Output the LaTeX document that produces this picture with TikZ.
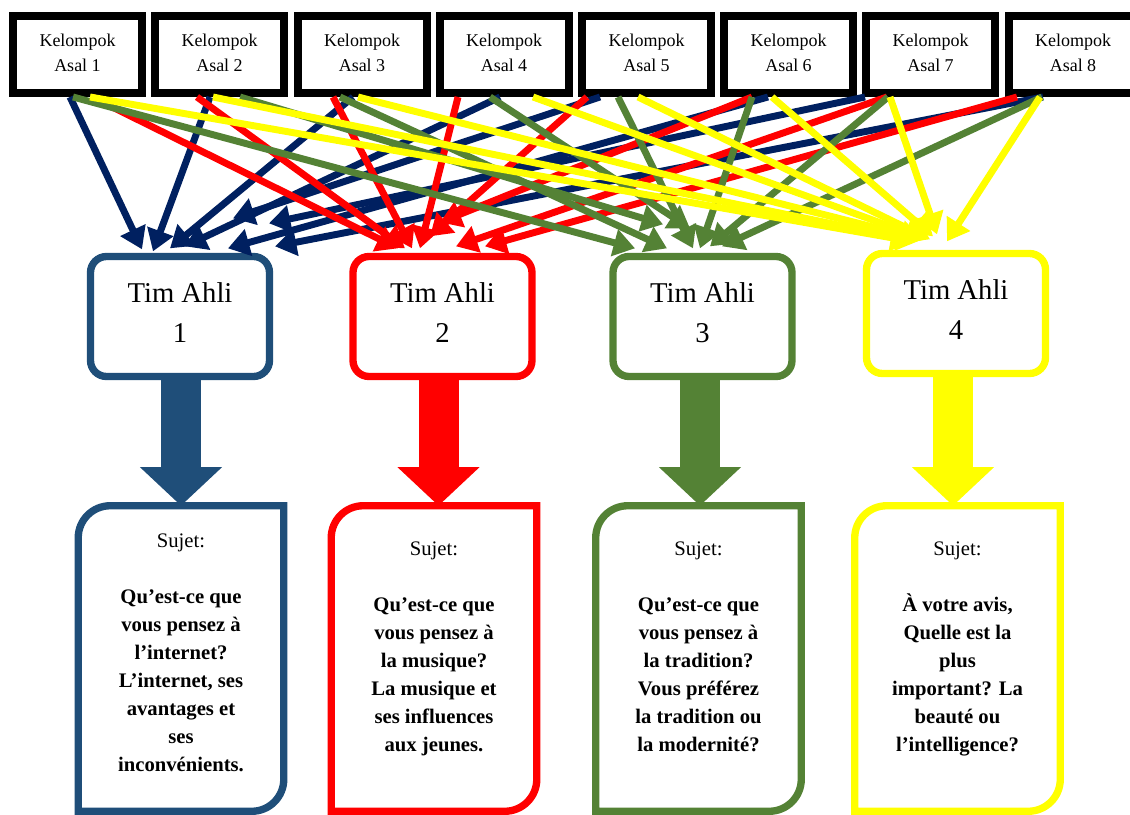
\documentclass[tikz,border=0pt]{standalone}
\usepackage{fontspec}
\setmainfont{Liberation Serif}
\usepackage{xcolor}
\usetikzlibrary{arrows.meta,positioning,calc}

\definecolor{navyA}{RGB}{0,32,96}
\definecolor{blueT}{RGB}{31,78,121}
\definecolor{redT}{RGB}{255,0,0}
\definecolor{greenT}{RGB}{84,130,53}
\definecolor{yellowT}{RGB}{255,255,0}

\begin{document}
\begin{tikzpicture}[x=0.75pt, y=-0.75pt,
    asal/.style={rectangle, draw=black, line width=6pt, fill=white, minimum width=96.75pt, minimum height=57.75pt, inner sep=0pt, align=center, text depth=3pt, font=\fontsize{13.5pt}{18.75pt}\selectfont},
    ahli/.style={rectangle, draw, rounded corners=12pt, line width=5.5pt, fill=white, minimum width=134.25pt, minimum height=90pt, inner sep=0pt, align=center, text depth=6pt, font=\fontsize{21.5pt}{30pt}\selectfont},
    sujet/.style={rectangle, minimum width=153.75pt, minimum height=228.75pt, inner sep=0pt},
    ask/.style={align=center, inner sep=0pt, font=\fontsize{15.5pt}{21pt}\selectfont\bfseries},
    link/.style={-{Triangle[length=16pt,width=20pt]}, line width=5.2pt},
    fat/.style={-{Triangle[length=29pt,width=60pt]}, line width=30pt},
    frame/.style={line width=5.5pt}
]
    \clip (0,0) rectangle (1130,814);

    % kelompok asal
    \node[asal] (a1) at (77.5,54.5) {Kelompok\\Asal 1};
    \node[asal] (a2) at (219.5,54.5) {Kelompok\\Asal 2};
    \node[asal] (a3) at (362,54.5) {Kelompok\\Asal 3};
    \node[asal] (a4) at (504,54.5) {Kelompok\\Asal 4};
    \node[asal] (a5) at (646.5,54.5) {Kelompok\\Asal 5};
    \node[asal] (a6) at (788.5,54.5) {Kelompok\\Asal 6};
    \node[asal] (a7) at (930.5,54.5) {Kelompok\\Asal 7};
    \node[asal] (a8) at (1073,54.5) {Kelompok\\Asal 8};

    % tim ahli
    \node[ahli, draw=blueT] (t1) at (180,316.5) {Tim Ahli\\1};
    \node[ahli, draw=redT] (t2) at (442.5,316.5) {Tim Ahli\\2};
    \node[ahli, draw=greenT] (t3) at (702.5,316.5) {Tim Ahli\\3};
    \node[ahli, draw=yellowT] (t4) at (956,313.5) {Tim Ahli\\4};

    % sujet boxes
    \node[sujet] (s1) at (181,658.5) {};
    \node[sujet] (s2) at (434,658.5) {};
    \node[sujet] (s3) at (698.5,658.5) {};
    \node[sujet] (s4) at (957.5,658.5) {};

    \draw[frame, blueT] (s1.south west) -- ([yshift=-24pt]s1.north west) arc[start angle=180, end angle=90, radius=24pt] -- (s1.north east) -- ([yshift=24pt]s1.south east) arc[start angle=0, end angle=-90, radius=24pt] -- cycle;
    \draw[frame, redT] (s2.south west) -- ([yshift=-24pt]s2.north west) arc[start angle=180, end angle=90, radius=24pt] -- (s2.north east) -- ([yshift=24pt]s2.south east) arc[start angle=0, end angle=-90, radius=24pt] -- cycle;
    \draw[frame, greenT] (s3.south west) -- ([yshift=-24pt]s3.north west) arc[start angle=180, end angle=90, radius=24pt] -- (s3.north east) -- ([yshift=24pt]s3.south east) arc[start angle=0, end angle=-90, radius=24pt] -- cycle;
    \draw[frame, yellowT] (s4.south west) -- ([yshift=-24pt]s4.north west) arc[start angle=180, end angle=90, radius=24pt] -- (s4.north east) -- ([yshift=24pt]s4.south east) arc[start angle=0, end angle=-90, radius=24pt] -- cycle;

    \node[ask, below=20.5pt of s1.north] (q1) {\mdseries Sujet:\\[21pt]Qu’est-ce que\\vous pensez à\\l’internet?\\L’internet, ses\\avantages et\\ses\\inconvénients.};
    \node[ask, below=26.5pt of s2.north] (q2) {\mdseries Sujet:\\[21pt]Qu’est-ce que\\vous pensez à\\la musique?\\La musique et\\ses influences\\aux jeunes.};
    \node[ask, below=26.5pt of s3.north] (q3) {\mdseries Sujet:\\[21pt]Qu’est-ce que\\vous pensez à\\la tradition?\\Vous préférez\\la tradition ou\\la modernité?};
    \node[ask, below=26.5pt of s4.north] (q4) {\mdseries Sujet:\\[21pt]À votre avis,\\Quelle est la\\plus\\important? La\\beauté ou\\l’intelligence?};

    % big arrows
    \draw[fat, blueT] ([xshift=0.75pt]t1.south) -- ([xshift=0.75pt]t1.south |- s1.north);
    \draw[fat, redT] ([xshift=-3pt]t2.south) -- ([xshift=-3pt]t2.south |- s2.north);
    \draw[fat, greenT] ([xshift=-1.9pt]t3.south) -- ([xshift=-1.9pt]t3.south |- s3.north);
    \draw[fat, yellowT] ([xshift=-2.25pt]t4.south) -- ([xshift=-2.25pt]t4.south |- s4.north);

    % to tim ahli 1
    \draw[link, navyA] ($(a1.south)+(-7.5,0)$) -- ($(t1.north)+(-38,-3.5)$);
    \draw[link, navyA] ($(a2.south)+(-9.5,0)$) -- ($(t1.north)+(-27,-1.5)$);
    \draw[link, navyA] ($(a3.south)+(-9,0)$) -- ($(t1.north)+(-10,-4.5)$);
    \draw[link, navyA] ($(a4.south)+(-4,0)$) -- ($(t1.north)+(5,-6.5)$);
    \draw[link, navyA] ($(a5.south)+(-46.5,0)$) -- ($(t1.north)+(53,-34.5)$);
    \draw[link, navyA] ($(a6.south)+(-20.5,0)$) -- ($(t1.north)+(48,-4.5)$);
    \draw[link, navyA] ($(a7.south)+(-65.5,0)$) -- ($(t1.north)+(89,-29.5)$);
    \draw[link, navyA] ($(a8.south)+(-30,0)$) -- ($(t1.north)+(95,-6.5)$);

    % to tim ahli 2
    \draw[link, redT] ($(a1.south)+(14.5,0)$) -- ($(t2.north)+(-44.5,-4.5)$);
    \draw[link, redT] ($(a2.south)+(-22.5,0)$) -- ($(t2.north)+(-37.5,-4.5)$);
    \draw[link, redT] ($(a3.south)+(-29,0)$) -- ($(t2.north)+(-30.5,-4.5)$);
    \draw[link, redT] ($(a4.south)+(-46,0)$) -- ($(t2.north)+(-22.5,-4.5)$);
    \draw[link, redT] ($(a5.south)+(-59.5,0)$) -- ($(t2.north)+(-12.5,-16.5)$);
    \draw[link, redT] ($(a6.south)+(-36.5,0)$) -- ($(t2.north)+(-2.5,-30.5)$);
    \draw[link, redT] ($(a7.south)+(-43.5,0)$) -- ($(t2.north)+(13.5,-6.5)$);
    \draw[link, redT] ($(a8.south)+(-56,0)$) -- ($(t2.north)+(42.5,-6.5)$);

    % to tim ahli 3
    \draw[link, greenT] ($(a1.south)+(-4.5,0)$) -- ($(t3.north)+(-67.5,-4.5)$);
    \draw[link, greenT] ($(a2.south)+(20.5,0)$) -- ($(t3.north)+(-39.5,-28.5)$);
    \draw[link, greenT] ($(a3.south)+(-22,0)$) -- ($(t3.north)+(-35.5,-4.5)$);
    \draw[link, greenT] ($(a4.south)+(-14,0)$) -- ($(t3.north)+(-12.5,-24.5)$);
    \draw[link, greenT] ($(a5.south)+(-28.5,0)$) -- ($(t3.north)+(-9.5,-4.5)$);
    \draw[link, greenT] ($(a6.south)+(-36.5,0)$) -- ($(t3.north)+(-2.5,-4.5)$);
    \draw[link, greenT] ($(a7.south)+(-42.5,0)$) -- ($(t3.north)+(7.5,-6.5)$);
    \draw[link, greenT] ($(a8.south)+(-31,0)$) -- ($(t3.north)+(19.5,-6.5)$);

    % to tim ahli 4
    \draw[link, yellowT] ($(a1.south)+(12.5,0)$) -- ($(t4.north)+(-44,-8.5)$);
    \draw[link, yellowT] ($(a2.south)+(-6.5,0)$) -- ($(t4.north)+(-38,-8.5)$);
    \draw[link, yellowT] ($(a3.south)+(-4,0)$) -- ($(t4.north)+(-34,-10.5)$);
    \draw[link, yellowT] ($(a4.south)+(29,0)$) -- ($(t4.north)+(-30,-10.5)$);
    \draw[link, yellowT] ($(a5.south)+(-8.5,0)$) -- ($(t4.north)+(-26,-10.5)$);
    \draw[link, yellowT] ($(a6.south)+(-16.5,0)$) -- ($(t4.north)+(-23,-13.5)$);
    \draw[link, yellowT] ($(a7.south)+(-40.5,0)$) -- ($(t4.north)+(-19,-15.5)$);
    \draw[link, yellowT] ($(a8.south)+(-33,0)$) -- ($(t4.north)+(-9,-8.5)$);
\end{tikzpicture}
\end{document}
